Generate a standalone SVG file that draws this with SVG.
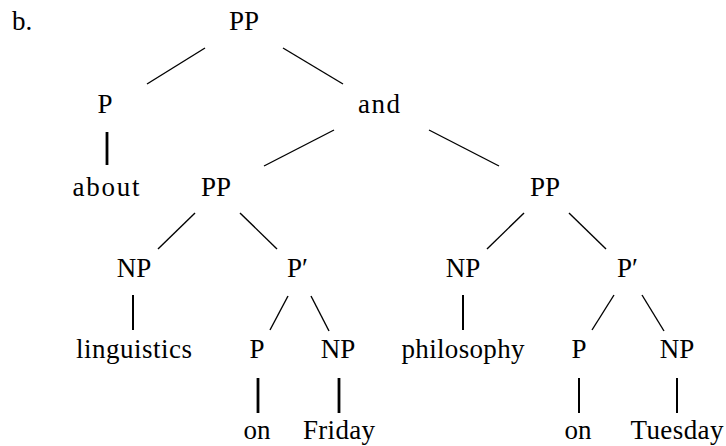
<svg xmlns="http://www.w3.org/2000/svg" width="726" height="446" viewBox="0 0 726 446">
  <rect width="726" height="446" fill="#fff"/>

  <text x="12" y="30" font-family="Liberation Serif, serif" font-size="27">b.</text>

  <!-- tree branches: thin diagonals, heavier vertical stems -->
  <g id="connectors" stroke="#000" fill="none" stroke-width="1.4">
    <line x1="205" y1="48" x2="147" y2="84"/>
    <line x1="283" y1="48" x2="343" y2="84"/>
    <line x1="107" y1="132" x2="107" y2="165" stroke-width="2.8"/>
    <line x1="334" y1="130" x2="264" y2="166"/>
    <line x1="429" y1="130" x2="499" y2="166"/>
    <line x1="195" y1="213" x2="158" y2="249"/>
    <line x1="240" y1="213" x2="277" y2="249"/>
    <line x1="524" y1="213" x2="487" y2="249"/>
    <line x1="569" y1="213" x2="606" y2="249"/>
    <line x1="133" y1="295" x2="133" y2="330" stroke-width="2"/>
    <line x1="288" y1="296" x2="270" y2="330"/>
    <line x1="311" y1="296" x2="329" y2="331"/>
    <line x1="463" y1="295" x2="463" y2="330" stroke-width="2"/>
    <line x1="614" y1="295" x2="592" y2="330"/>
    <line x1="642" y1="295" x2="664" y2="331"/>
    <line x1="258" y1="378" x2="258" y2="413" stroke-width="2.8"/>
    <line x1="339" y1="378" x2="339" y2="413" stroke-width="2.8"/>
    <line x1="579" y1="378" x2="579" y2="413" stroke-width="2"/>
    <line x1="677" y1="378" x2="677" y2="413" stroke-width="2"/>
  </g>

  <g font-family="Liberation Serif, serif" font-size="27" text-anchor="middle" fill="#000">
    <g id="pp-root"><text x="244" y="30">PP</text></g>
    <g id="p-about"><text x="105" y="113">P</text></g>
    <g id="and"><text x="379" y="113" textLength="42">and</text></g>
    <g id="about"><text x="106" y="196" textLength="67">about</text></g>
    <g id="pp-left"><text x="216" y="196">PP</text></g>
    <g id="pp-right"><text x="545" y="196">PP</text></g>
    <g id="np-left"><text x="134" y="277">NP</text></g>
    <g id="pbar-left"><text x="287" y="277" text-anchor="start">P&#8242;</text></g>
    <g id="np-right"><text x="463" y="277">NP</text></g>
    <g id="pbar-right"><text x="617" y="277" text-anchor="start">P&#8242;</text></g>
    <g id="linguistics"><text x="134" y="358" textLength="116">linguistics</text></g>
    <g id="p-left"><text x="257" y="358">P</text></g>
    <g id="np-friday"><text x="338" y="358">NP</text></g>
    <g id="philosophy"><text x="463" y="358" textLength="123">philosophy</text></g>
    <g id="p-right"><text x="579" y="358">P</text></g>
    <g id="np-tuesday"><text x="677" y="358">NP</text></g>
    <g id="on-left"><text x="257" y="439">on</text></g>
    <g id="friday"><text x="339" y="439" textLength="72">Friday</text></g>
    <g id="on-right"><text x="578" y="439">on</text></g>
    <g id="tuesday"><text x="677" y="439" textLength="93">Tuesday</text></g>
  </g>
</svg>
